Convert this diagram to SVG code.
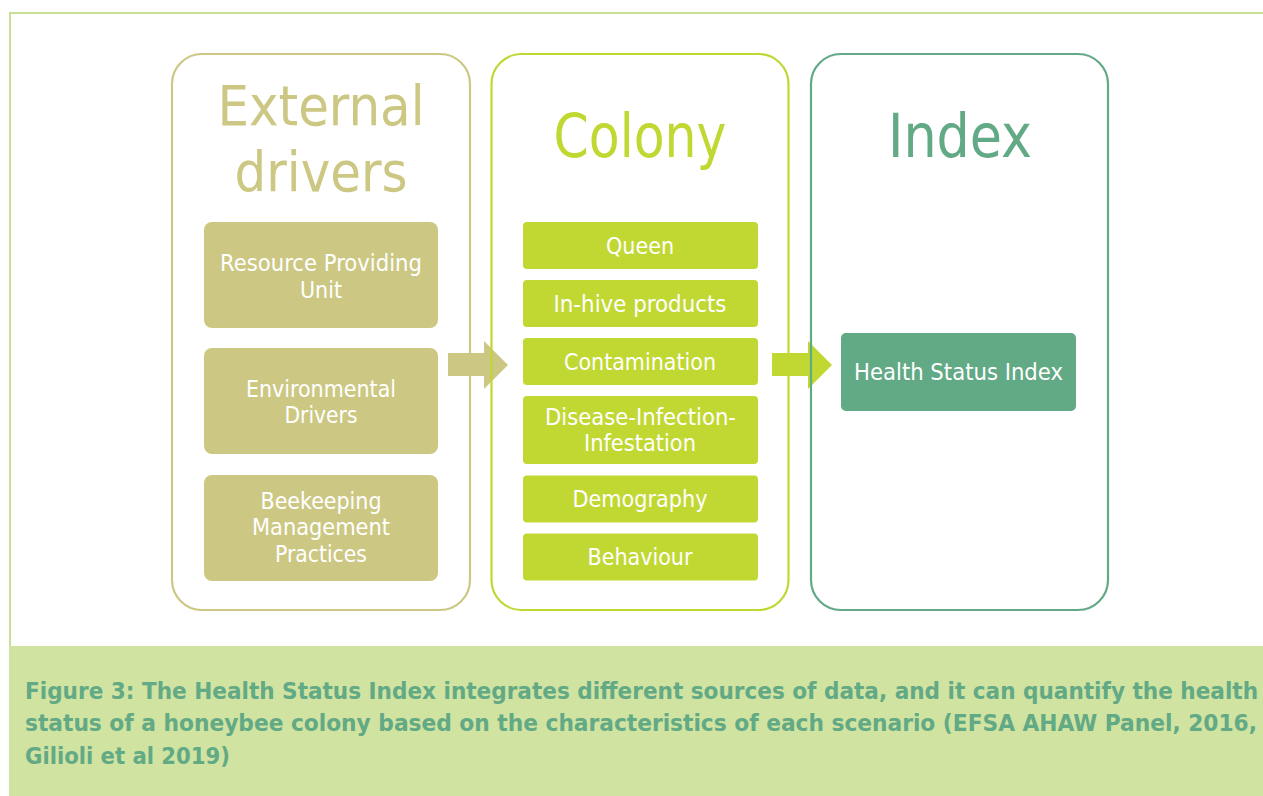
<svg xmlns="http://www.w3.org/2000/svg" width="1263" height="796" viewBox="0 0 1263 796">
<defs>
<style>
.t{font-family:"DejaVu Sans Condensed","DejaVu Sans","Liberation Sans",sans-serif;text-anchor:middle}
.title{font-size:60px}
.title2{font-size:56px}
.lbl{font-size:22.5px;fill:#ffffff}
.cap{font-family:"DejaVu Sans Condensed","DejaVu Sans","Liberation Sans",sans-serif;font-weight:bold;font-size:23px;fill:#62a985}
.k{fill:#ccc884}
.ks{fill:none;stroke:#ccc884;stroke-width:2.2}
.y{fill:#c1d833}
.ys{fill:none;stroke:#c1d833;stroke-width:2.2}
.g{fill:#62a985}
.gs{fill:none;stroke:#62a985;stroke-width:2.2}
</style>
</defs>
<rect width="1263" height="796" fill="#ffffff"/>
<path d="M10,646 V13 H1263" fill="none" stroke="#cadf96" stroke-width="2"/>
<rect x="9" y="646" width="1254" height="150" fill="#d0e3a0"/>

<g id="connectors">
<polygon class="k" points="448,353 484,353 484,341 508,365 484,389 484,376 448,376"/>
<polygon class="y" points="772,353 808,353 808,341 832,365 808,389 808,376 772,376"/>
</g>

<g id="external-drivers">
<rect class="ks" x="172" y="54" width="298" height="556" rx="30"/>
<text class="t title2 k"><tspan x="321" y="125" textLength="207" lengthAdjust="spacingAndGlyphs">External</tspan><tspan x="321" y="190.5" textLength="173" lengthAdjust="spacingAndGlyphs">drivers</tspan></text>
</g>
<g id="resource-providing-unit">
<rect class="k" x="204" y="222" width="234" height="106" rx="8"/>
<text class="t lbl"><tspan x="321" y="271.3" textLength="202" lengthAdjust="spacingAndGlyphs">Resource Providing</tspan><tspan x="321" y="297.7" textLength="42" lengthAdjust="spacingAndGlyphs">Unit</tspan></text>
</g>
<g id="environmental-drivers">
<rect class="k" x="204" y="348" width="234" height="106" rx="8"/>
<text class="t lbl"><tspan x="321" y="396.5" textLength="150" lengthAdjust="spacingAndGlyphs">Environmental</tspan><tspan x="321" y="422.9" textLength="73" lengthAdjust="spacingAndGlyphs">Drivers</tspan></text>
</g>
<g id="beekeeping-management-practices">
<rect class="k" x="204" y="475" width="234" height="106" rx="8"/>
<text class="t lbl"><tspan x="321" y="509" textLength="121" lengthAdjust="spacingAndGlyphs">Beekeeping</tspan><tspan x="321" y="535.4" textLength="138" lengthAdjust="spacingAndGlyphs">Management</tspan><tspan x="321" y="561.8" textLength="92" lengthAdjust="spacingAndGlyphs">Practices</tspan></text>
</g>

<g id="colony">
<rect class="ys" x="491.5" y="54" width="297" height="556" rx="30"/>
<text class="t title y" x="640" y="157" textLength="173" lengthAdjust="spacingAndGlyphs">Colony</text>
</g>
<g id="queen">
<rect class="y" x="523" y="222" width="235" height="47" rx="4"/>
<text class="t lbl" x="640" y="253.5" textLength="68" lengthAdjust="spacingAndGlyphs">Queen</text>
</g>
<g id="in-hive-products">
<rect class="y" x="523" y="280" width="235" height="47" rx="4"/>
<text class="t lbl" x="640" y="311.5" textLength="173" lengthAdjust="spacingAndGlyphs">In-hive products</text>
</g>
<g id="contamination">
<rect class="y" x="523" y="338" width="235" height="47" rx="4"/>
<text class="t lbl" x="640" y="369.5" textLength="152" lengthAdjust="spacingAndGlyphs">Contamination</text>
</g>
<g id="disease-infection-infestation">
<rect class="y" x="523" y="396" width="235" height="68" rx="4"/>
<text class="t lbl"><tspan x="640.5" y="424.8" textLength="191" lengthAdjust="spacingAndGlyphs">Disease-Infection-</tspan><tspan x="640" y="451.2" textLength="112" lengthAdjust="spacingAndGlyphs">Infestation</tspan></text>
</g>
<g id="demography">
<rect class="y" x="523" y="475.5" width="235" height="47" rx="4"/>
<text class="t lbl" x="640" y="506.5" textLength="135" lengthAdjust="spacingAndGlyphs">Demography</text>
</g>
<g id="behaviour">
<rect class="y" x="523" y="533.5" width="235" height="47" rx="4"/>
<text class="t lbl" x="640" y="564.5" textLength="105" lengthAdjust="spacingAndGlyphs">Behaviour</text>
</g>

<g id="index">
<rect class="gs" x="811" y="54" width="297" height="556" rx="30"/>
<text class="t title g" x="960" y="157" textLength="144" lengthAdjust="spacingAndGlyphs">Index</text>
</g>
<g id="health-status-index">
<rect class="g" x="841" y="333" width="235" height="78" rx="5"/>
<text class="t lbl" x="958.5" y="380" textLength="209" lengthAdjust="spacingAndGlyphs">Health Status Index</text>
</g>

<g id="caption">
<text class="cap"><tspan x="25" y="698.5" textLength="1233" lengthAdjust="spacingAndGlyphs">Figure 3: The Health Status Index integrates different sources of data, and it can quantify the health</tspan><tspan x="25" y="731" textLength="1232" lengthAdjust="spacingAndGlyphs">status of a honeybee colony based on the characteristics of each scenario (EFSA AHAW Panel, 2016,</tspan><tspan x="25" y="763.5" textLength="205" lengthAdjust="spacingAndGlyphs">Gilioli et al 2019)</tspan></text>
</g>
</svg>
